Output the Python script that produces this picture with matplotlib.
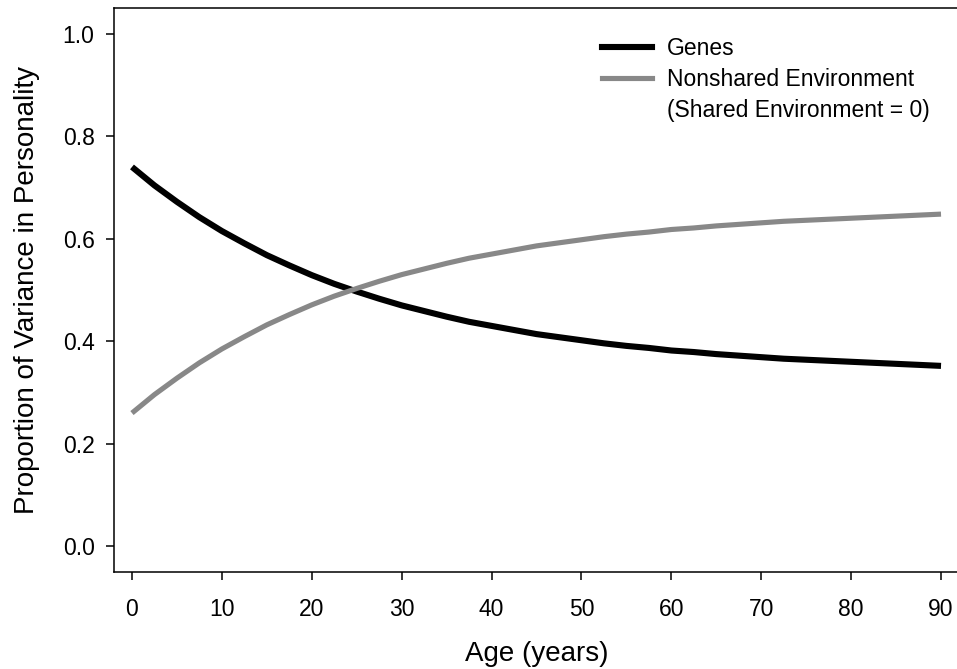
import matplotlib
matplotlib.use("Agg")
import matplotlib.pyplot as plt
from matplotlib.lines import Line2D

plt.rcParams['font.family'] = ['Liberation Sans', 'DejaVu Sans']

age = [0, 2.5, 5, 7.5, 10, 12.5, 15, 17.5, 20, 22.5, 25, 27.5, 30, 32.5, 35, 37.5,
       40, 42.5, 45, 47.5, 50, 52.5, 55, 57.5, 60, 62.5, 65, 67.5, 70, 72.5, 75,
       77.5, 80, 82.5, 85, 87.5, 90]
genes = [0.740, 0.704, 0.672, 0.642, 0.615, 0.591, 0.568, 0.548, 0.529, 0.512,
         0.497, 0.483, 0.470, 0.459, 0.448, 0.438, 0.430, 0.422, 0.414, 0.408,
         0.402, 0.396, 0.391, 0.387, 0.382, 0.379, 0.375, 0.372, 0.369, 0.366,
         0.364, 0.362, 0.360, 0.358, 0.356, 0.354, 0.352]
nonshared = [round(1 - g, 3) for g in genes]

xticks = [0, 10, 20, 30, 40, 50, 60, 70, 80, 90]
yticks = [0.0, 0.2, 0.4, 0.6, 0.8, 1.0]
ytick_labels = ["0.0", "0.2", "0.4", "0.6", "0.8", "1.0"]

fig = plt.figure(figsize=(9.57, 6.69), dpi=100)
ax = fig.add_axes([114/957, 1 - 572/669, 845/957, 564/669])

ax.plot(age, genes, color='black', lw=4.4, solid_capstyle='butt', solid_joinstyle='round')
ax.plot(age, nonshared, color='#888888', lw=3.7, solid_capstyle='butt', solid_joinstyle='round')

ax.set_xlim(-2, 92)
ax.set_ylim(-0.05, 1.05)
ax.set_xticks(xticks)
ax.set_yticks(yticks)
ax.set_yticklabels(ytick_labels)
ax.tick_params(axis='both', direction='out', length=6, width=1.1, labelsize=16.5, color='black')
ax.tick_params(axis='x', pad=12.5)
ax.tick_params(axis='y', pad=8)
for s in ['left', 'top', 'bottom']:
    ax.spines[s].set_linewidth(1.1)
ax.spines['right'].set_visible(False)

ax.set_xlabel("Age (years)", fontsize=20, labelpad=14.5)
ax.set_ylabel("Proportion of Variance in Personality", fontsize=20, labelpad=16)

handles = [Line2D([], [], color='black', lw=4.4),
           Line2D([], [], color='#888888', lw=3.7),
           Line2D([], [], color='none', lw=0)]
labels = ["Genes", "Nonshared Environment", "(Shared Environment = 0)"]
leg = ax.legend(handles, labels, loc='upper left', bbox_to_anchor=(0.577, 0.949),
                frameon=False, fontsize=16.5, handlelength=2.2, handletextpad=0.65,
                labelspacing=0.35, borderpad=0, borderaxespad=0)
fig.savefig("out.png", dpi=100)
